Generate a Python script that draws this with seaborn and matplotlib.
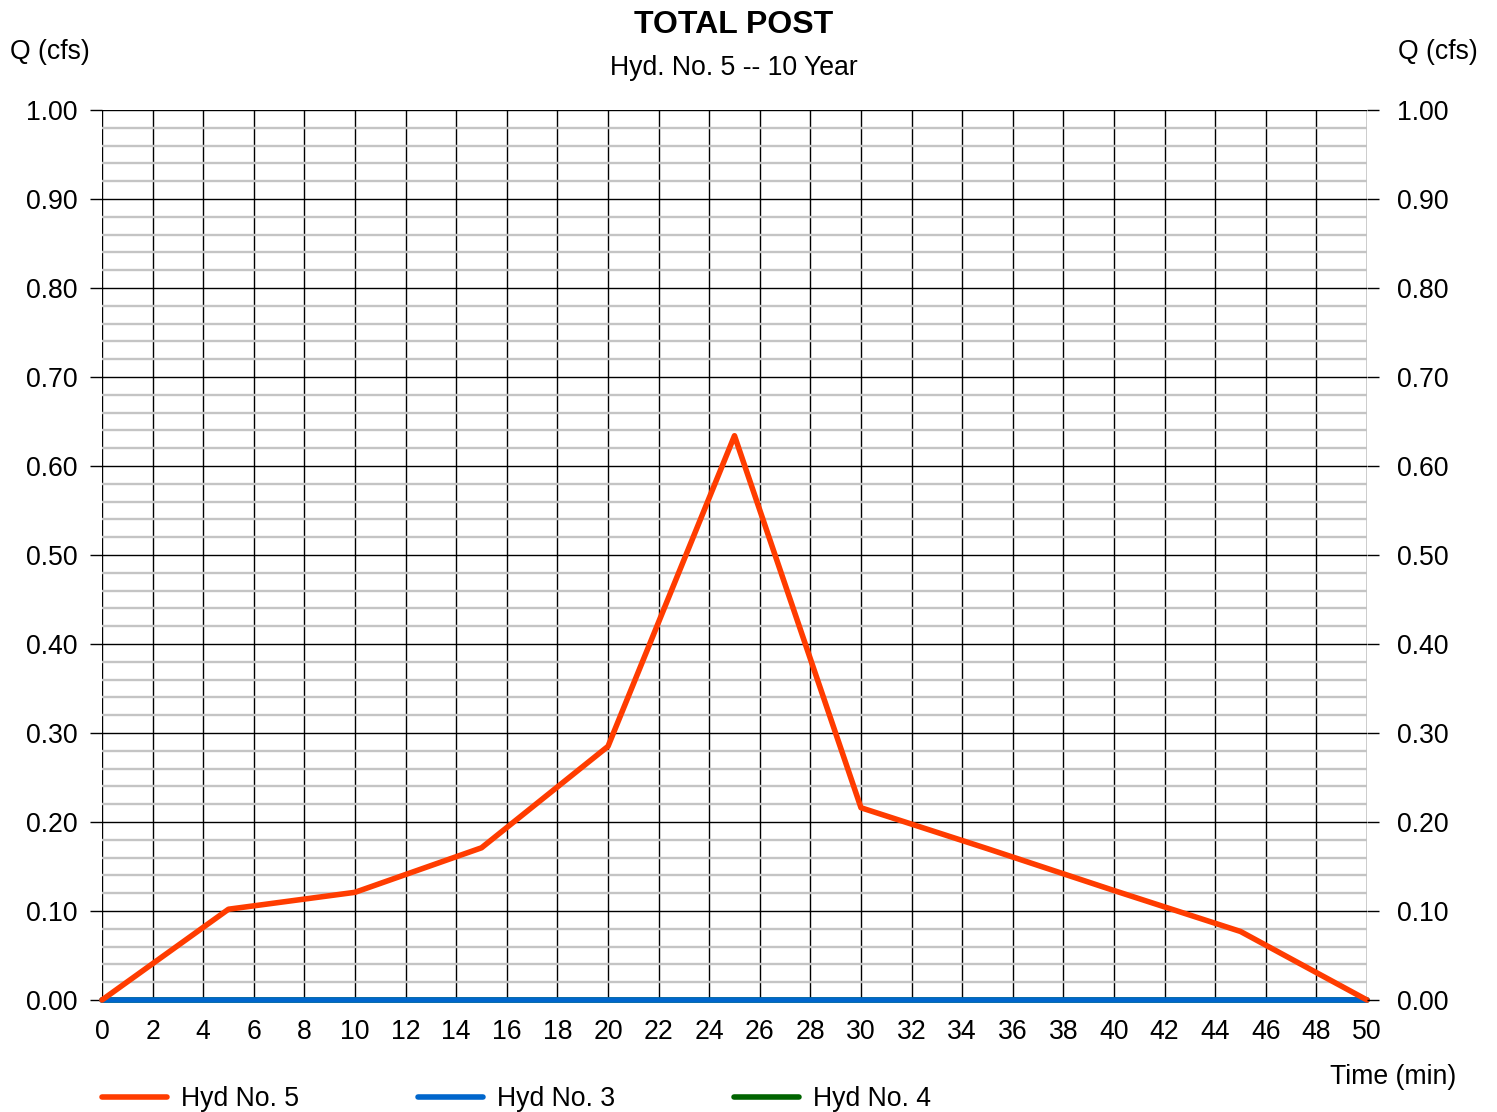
import numpy as np
import pandas as pd
import matplotlib
matplotlib.use("Agg")
import matplotlib.pyplot as plt
from matplotlib.ticker import MultipleLocator
import seaborn as sns

sns.set_style("white")
plt.rcParams['font.family'] = ['Liberation Sans', 'DejaVu Sans']
plt.rcParams['text.color'] = 'black'
plt.rcParams['xtick.color'] = 'black'
plt.rcParams['ytick.color'] = 'black'

# hydrograph ordinates (min, cfs)
time_min = [0, 5, 10, 15, 20, 25, 30, 35, 40, 45, 50]
hyd5 = [0.0, 0.102, 0.121, 0.171, 0.285, 0.634, 0.216, 0.170, 0.123, 0.077, 0.0]
hyd3 = [0.0] * len(time_min)
hyd4 = [0.0] * len(time_min)

df = pd.DataFrame({"t": time_min, "Hyd No. 5": hyd5, "Hyd No. 3": hyd3, "Hyd No. 4": hyd4})

fig = plt.figure(figsize=(14.97, 11.12), dpi=100)
ax = fig.add_axes([102 / 1497, 1 - 1000 / 1112, (1367 - 102) / 1497, 890 / 1112])

fs = 19.2
sns.lineplot(data=df, x="t", y="Hyd No. 4", ax=ax, color="#006400", lw=4, label="Hyd No. 4", zorder=3, clip_on=False)
sns.lineplot(data=df, x="t", y="Hyd No. 3", ax=ax, color="#0066cc", lw=4, label="Hyd No. 3", zorder=4, clip_on=False)
sns.lineplot(data=df, x="t", y="Hyd No. 5", ax=ax, color="#ff3c00", lw=4, label="Hyd No. 5", zorder=5, clip_on=False)

ax.set_xlim(0, 50)
ax.set_ylim(0, 1.0)
ax.xaxis.set_major_locator(MultipleLocator(2))
ax.yaxis.set_major_locator(MultipleLocator(0.1))
ax.yaxis.set_minor_locator(MultipleLocator(0.02))
ax.grid(which="minor", axis="y", color="#c4c4c4", lw=1.7, zorder=1)
ax.grid(which="major", axis="both", color="black", lw=1, zorder=2)
ax.set_axisbelow(True)
for s in ax.spines.values():
    s.set_visible(False)

ax.set_xlabel("")
ax.set_ylabel("")
ax.yaxis.set_major_formatter(plt.FuncFormatter(lambda v, p: f"{v:.2f}"))
ax.tick_params(axis="y", which="major", direction="out", length=8.6, width=1, labelsize=fs, pad=9, left=True)
ax.tick_params(axis="y", which="minor", length=0)
ax.tick_params(axis="x", length=0, labelsize=fs, pad=13.5)

ax2 = ax.twinx()
ax2.set_ylim(ax.get_ylim())
ax2.yaxis.set_major_locator(MultipleLocator(0.1))
ax2.yaxis.set_major_formatter(plt.FuncFormatter(lambda v, p: f"{v:.2f}"))
ax2.tick_params(axis="y", direction="out", length=8.6, width=1, labelsize=fs, pad=13)
for s in ax2.spines.values():
    s.set_visible(False)

fig.text(734 / 1497, 1 - 25 / 1112, "TOTAL POST", ha="center", va="center", fontsize=23, fontweight="bold")
fig.text(734 / 1497, 1 - 68 / 1112, "Hyd. No. 5 -- 10 Year", ha="center", va="center", fontsize=fs)
fig.text(10 / 1497, 1 - 52 / 1112, "Q (cfs)", ha="left", va="center", fontsize=fs)
fig.text(1478 / 1497, 1 - 52 / 1112, "Q (cfs)", ha="right", va="center", fontsize=fs)
fig.text(1456 / 1497, 1 - 1077 / 1112, "Time (min)", ha="right", va="center", fontsize=fs)

handles, labels = ax.get_legend_handles_labels()
order = [labels.index(l) for l in ["Hyd No. 5", "Hyd No. 3", "Hyd No. 4"]]
ax.get_legend().remove()
fig.legend([handles[i] for i in order], [labels[i] for i in order], loc="center left",
           bbox_to_anchor=(102 / 1497, 1 - 1099 / 1112), ncol=3, frameon=False, fontsize=fs,
           handlelength=2.45, handletextpad=0.52, columnspacing=4.45, borderpad=0, borderaxespad=0)

fig.savefig("out.png", dpi=100)
